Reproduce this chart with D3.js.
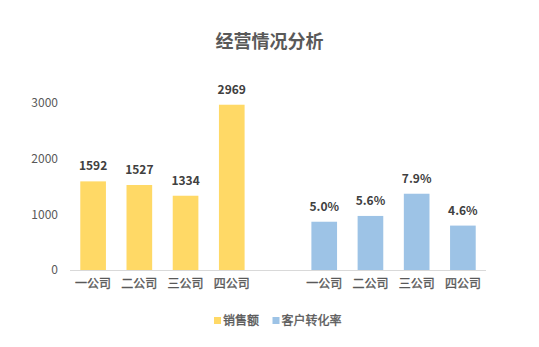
<!DOCTYPE html>
<html>
<head>
<meta charset="utf-8">
<script src="https://cdn.jsdelivr.net/npm/d3@7"></script>
<style>
  html, body { margin: 0; padding: 0; background: #fff; }
  svg { display: block; font-family: "Noto Sans CJK SC", "Noto Sans", sans-serif; }
</style>
</head>
<body>
<svg id="chart" width="539" height="347"></svg>
<script>
// Data
const title = "经营情况分析";
const companies = ["一公司", "二公司", "三公司", "四公司"];
const seriesNames = ["销售额", "客户转化率"];
const sales = [1592, 1527, 1334, 2969];
const rates = [0.050, 0.056, 0.079, 0.046];
const yTicks = [0, 1000, 2000, 3000];

const colors = { "销售额": "#FFD966", "客户转化率": "#9DC3E6" };

const svg = d3.select("#chart");

// Slots: four sales bars, an empty gap, four rate bars
const slots = [];
companies.forEach((c, i) => slots.push({ key: "s" + i, label: c, series: "销售额", value: sales[i] }));
slots.push({ key: "gap", label: "", series: null, value: null });
companies.forEach((c, i) => slots.push({ key: "r" + i, label: c, series: "客户转化率", value: rates[i] }));

const x = d3.scaleBand()
  .domain(slots.map(d => d.key))
  .range([70, 486])
  .paddingInner(0.445)
  .paddingOuter(0.2225);

const y = d3.scaleLinear().domain([0, 3000]).range([270, 103]);
// Conversion rate uses its own (hidden) secondary scale
const yRate = d3.scaleLinear().domain([0, 0.173]).range([270, 103]);

const scaleFor = d => d.series === "销售额" ? y : yRate;
const fmtLabel = d => d.series === "销售额" ? String(d.value) : d3.format(".1%")(d.value);

// Title
svg.append("text")
  .attr("x", 269.5).attr("y", 48)
  .attr("text-anchor", "middle")
  .attr("font-size", 18).attr("font-weight", "bold")
  .attr("fill", "#595959")
  .text(title);

// Left axis (labels only)
const yAxis = svg.append("g")
  .attr("transform", "translate(62,0)")
  .call(d3.axisLeft(y).tickValues(yTicks).tickSize(0).tickPadding(4).tickFormat(d3.format("d")));
yAxis.select(".domain").remove();
yAxis.selectAll("text")
  .attr("font-size", 12).attr("fill", "#595959")
  .attr("font-family", "\"Noto Sans CJK SC\", sans-serif");

// Bars
const bars = slots.filter(d => d.series);
svg.append("g").selectAll("rect")
  .data(bars)
  .join("rect")
  .attr("x", d => x(d.key))
  .attr("width", x.bandwidth())
  .attr("y", d => scaleFor(d)(d.value))
  .attr("height", d => 270 - scaleFor(d)(d.value))
  .attr("fill", d => colors[d.series]);

// Value labels
svg.append("g").selectAll("text")
  .data(bars)
  .join("text")
  .attr("x", d => x(d.key) + x.bandwidth() / 2)
  .attr("y", d => scaleFor(d)(d.value) - 11)
  .attr("text-anchor", "middle")
  .attr("font-size", 12).attr("font-weight", "bold")
  .attr("fill", "#404040")
  .text(fmtLabel);

// Category axis
const xAxis = svg.append("g")
  .attr("transform", "translate(0,270)")
  .call(d3.axisBottom(x)
    .tickValues(bars.map(d => d.key))
    .tickSize(0).tickPadding(9)
    .tickFormat(k => slots.find(s => s.key === k).label));
xAxis.select(".domain").attr("stroke", "#D9D9D9").attr("d", "M70,0.5H486");
xAxis.selectAll("text")
  .attr("font-size", 12).attr("fill", "#595959")
  .attr("stroke", "#595959").attr("stroke-width", 0.35)
  .attr("font-family", "\"Noto Sans CJK SC\", sans-serif");

// Legend
const legend = svg.append("g");
const legendItems = [
  { name: seriesNames[0], x: 214 },
  { name: seriesNames[1], x: 272.5 }
];
legendItems.forEach(it => {
  legend.append("rect")
    .attr("x", it.x).attr("y", 317)
    .attr("width", 7).attr("height", 7)
    .attr("fill", colors[it.name]);
  legend.append("text")
    .attr("x", it.x + 9).attr("y", 324.5)
    .attr("font-size", 12).attr("fill", "#595959")
    .attr("stroke", "#595959").attr("stroke-width", 0.35)
    .text(it.name);
});
</script>
</body>
</html>
